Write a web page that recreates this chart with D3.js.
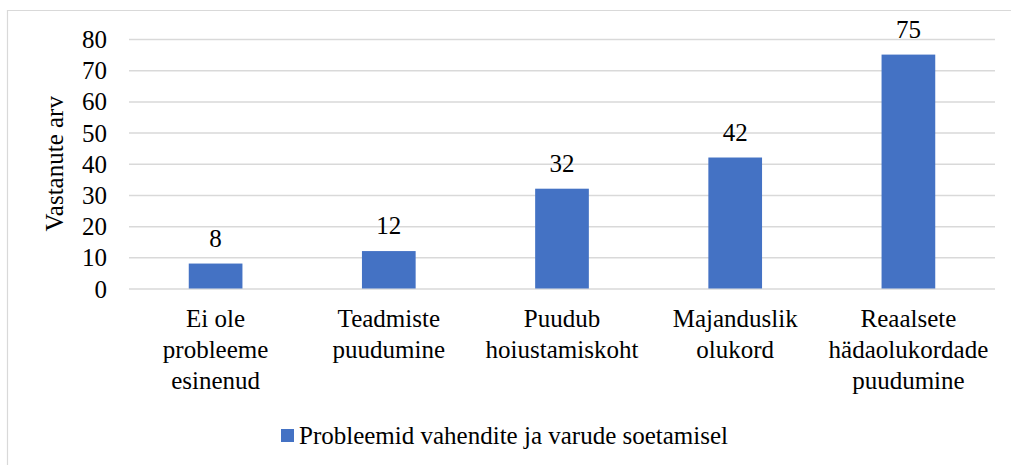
<!DOCTYPE html>
<html><head><meta charset="utf-8">
<script src="https://cdn.jsdelivr.net/npm/d3@7"></script>
<style>body{margin:0;background:#fff}svg{display:block}</style>
</head><body>
<svg id="c" width="1011" height="465"></svg>
<script>
const categories = [["Ei ole","probleeme","esinenud"],["Teadmiste","puudumine"],["Puudub","hoiustamiskoht"],["Majanduslik","olukord"],["Reaalsete","hädaolukordade","puudumine"]];
const values = [8, 12, 32, 42, 75];
const yTicks = [0,10,20,30,40,50,60,70,80];
const seriesName = "Probleemid vahendite ja varude soetamisel";
const yTitle = "Vastanute arv";

const FONT = "'Liberation Serif', Tinos, 'Times New Roman', Times, 'DejaVu Serif', 'Noto Serif', serif";
const svg = d3.select("#c").style("font-family", FONT);
const color = "#4472C4", grid = "#d9d9d9";
const pL = 129, pR = 995, pT = 39, pB = 288.5;
const fs = 25;

svg.append("path").attr("d","M7.5,465 L7.5,10.5 L1011,10.5").attr("fill","none").attr("stroke",grid).attr("stroke-width",1.2);

const x = d3.scaleBand().domain(d3.range(values.length)).range([pL,pR]).padding(0);
const y = d3.scaleLinear().domain([0,80]).range([pB,pT]);

const yAxis = svg.append("g").attr("transform",`translate(${pL},0)`)
  .call(d3.axisLeft(y).tickValues(yTicks).tickSize(-(pR-pL)).tickPadding(22));
yAxis.attr("font-family", null).attr("font-size", null);
yAxis.select(".domain").remove();
yAxis.selectAll(".tick line").attr("stroke",grid).attr("stroke-width",1.5);
yAxis.selectAll(".tick text").style("font-family",FONT).attr("font-size",fs).attr("fill","#000").attr("dy","0.34em");

const bw = x.bandwidth()*0.31;
svg.selectAll("rect.bar").data(values).enter().append("rect").attr("class","bar")
  .attr("x",(d,i)=>x(i)+x.bandwidth()/2-bw/2).attr("width",bw)
  .attr("y",d=>y(d)).attr("height",d=>y(0)-y(d)).attr("fill",color);

svg.selectAll("text.lbl").data(values).enter().append("text").attr("class","lbl")
  .style("font-family",FONT)
  .attr("x",(d,i)=>x(i)+x.bandwidth()/2).attr("y",d=>y(d)-17)
  .attr("text-anchor","middle").attr("font-size",fs).text(d=>d);

const xl = svg.selectAll("text.cat").data(categories).enter().append("text").attr("class","cat")
  .style("font-family",FONT)
  .attr("text-anchor","middle").attr("font-size",fs)
  .attr("transform",(d,i)=>`translate(${x(i)+x.bandwidth()/2},327)`);
xl.selectAll("tspan").data(d=>d).enter().append("tspan")
  .attr("x",0).attr("y",(d,j)=>j*31).text(d=>d);

svg.append("text").style("font-family",FONT).attr("transform",`translate(63,${(pT+pB)/2}) rotate(-90)`)
  .attr("text-anchor","middle").attr("font-size",fs).text(yTitle);

const lg = svg.append("g").attr("transform","translate(281,429)");
lg.append("rect").attr("width",13).attr("height",13).attr("fill",color);
lg.append("text").style("font-family",FONT).attr("x",18).attr("y",15).attr("font-size",fs).text(seriesName);
</script>
</body></html>
